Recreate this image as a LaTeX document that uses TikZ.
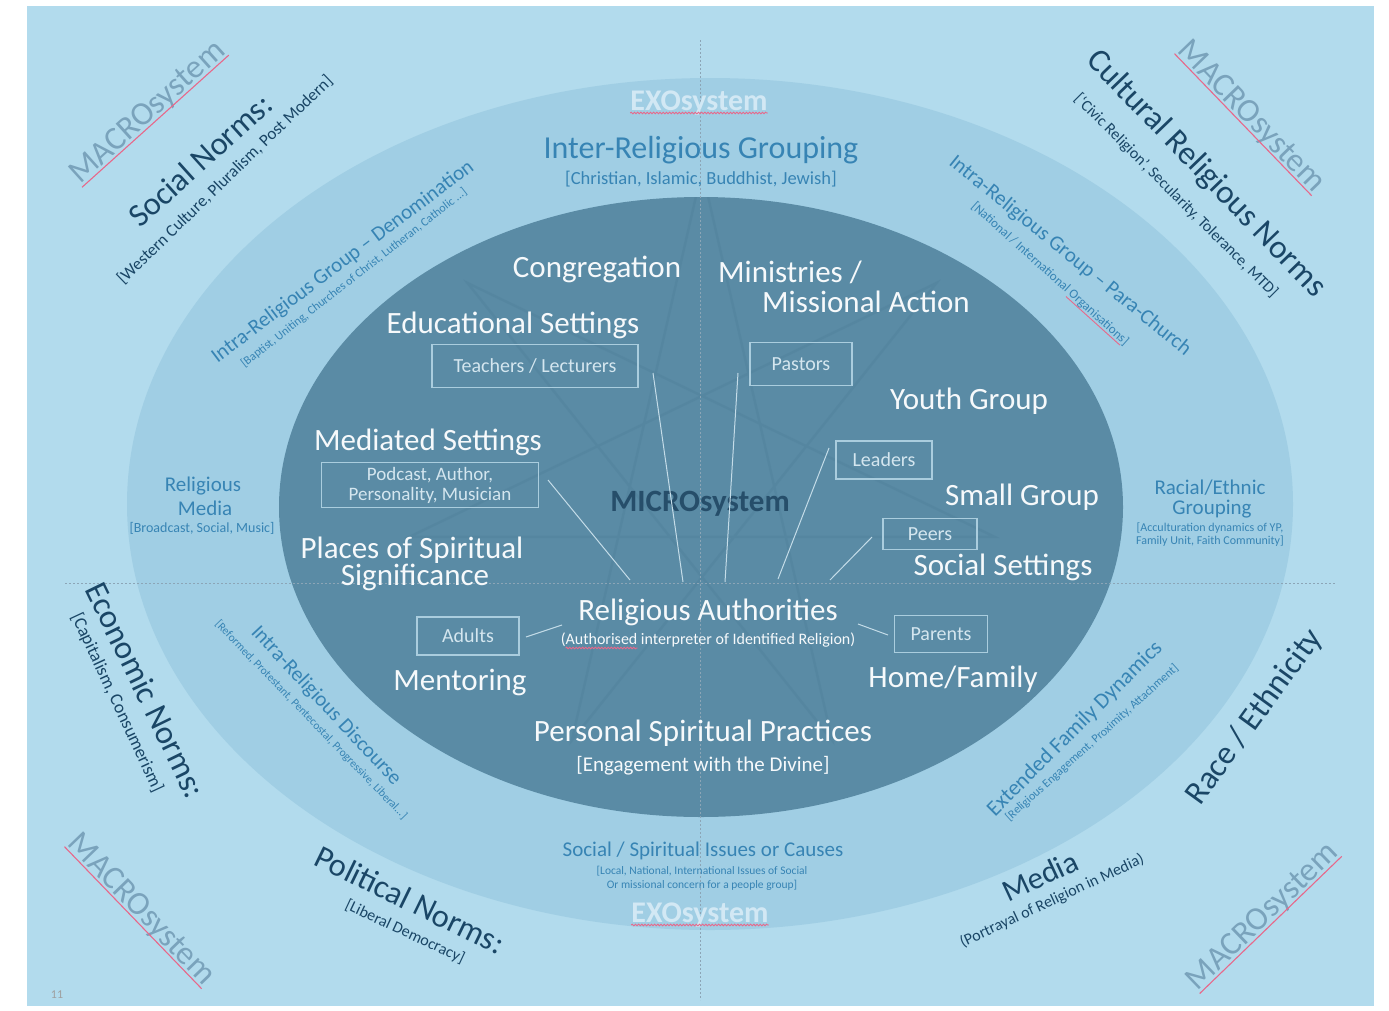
\documentclass[tikz,border=0pt]{standalone}
\usepackage{fontspec}
\setmainfont{Carlito}
\usetikzlibrary{calc,decorations.pathmorphing}

\definecolor{pagebg}{RGB}{178,219,237}
\definecolor{exoband}{RGB}{160,206,228}
\definecolor{microfill}{RGB}{90,139,165}
\definecolor{starcol}{RGB}{66,112,140}
\definecolor{guidegray}{RGB}{140,165,182}
\definecolor{microtext}{RGB}{246,249,251}
\definecolor{boxline}{RGB}{170,205,222}
\definecolor{boxtext}{RGB}{212,230,239}
\definecolor{linkline}{RGB}{196,220,232}
\definecolor{microtitle}{RGB}{38,78,106}
\definecolor{exotext}{RGB}{55,132,180}
\definecolor{macrotext}{RGB}{26,70,102}
\definecolor{wmblue}{RGB}{122,163,188}
\definecolor{exowhite}{RGB}{210,232,244}
\definecolor{spellred}{RGB}{232,104,138}

\newcommand{\fsz}[2]{\fontsize{#1}{#2}\selectfont}

\begin{document}
\begin{tikzpicture}[x=1pt,y=-1pt,
  micro/.style={text=microtext,font=\fsz{31}{36},inner sep=0pt},
  rolebox/.style={draw=boxline,line width=1.2pt,text=boxtext,font=\fsz{20}{21},inner sep=0pt,align=center},
  link/.style={draw=linkline,line width=1pt},
  exolabel/.style={text=exotext,inner sep=0pt},
  macrolabel/.style={text=macrotext,inner sep=0pt},
  watermark/.style={text=wmblue,font=\fsz{33}{38},inner sep=0pt},
  exomark/.style={text=exowhite,font=\bfseries\fsz{30}{34},inner sep=0pt},
  redline/.style={draw=spellred,line width=1.1pt},
  squiggle/.style={draw=spellred,line width=0.9pt,decorate,decoration={snake,amplitude=0.8pt,segment length=3.2pt}},
  guideline/.style={draw=guidegray,dash pattern=on 2pt off 2pt,line width=0.7pt}
]
\useasboundingbox (0,0) rectangle (1389,1010);
\fill[white] (0,0) rectangle (1389,1010);

% macro field, exosystem ring, microsystem core
\fill[pagebg] (27,6) rectangle (1374,1006);
\fill[exoband] (710,504) ellipse (583pt and 426pt);
\fill[microfill] (701,507) ellipse (422pt and 310pt);

% faint seven-pointed star inside the core
\begin{scope}
  \clip (701,507) ellipse (422pt and 310pt);
  \draw[starcol,line width=2.5pt,opacity=0.17,line join=miter,shift={(702,470)}]
    (90:300pt) \foreach \k in {1,...,6} { -- ({90+\k*154.2857}:300pt) } -- cycle;
\end{scope}

% quadrant guides
\draw[guideline] (700,40) -- (700,1000);
\draw[guideline] (65,583) -- (1335,583);

% ---------- MICROsystem ----------
\node[micro,anchor=base] (congr) at (597,277) {Congregation};
\node[micro,anchor=base west] (minist1) at (718,282) {Ministries /};
\node[micro,anchor=base west] (minist2) at (762,312) {Missional Action};
\node[micro,anchor=base] (educ) at (513,333) {Educational Settings};
\node[rolebox,minimum width=206pt,minimum height=43pt] (teach) at (535,366) {Teachers / Lecturers};
\node[rolebox,minimum width=102pt,minimum height=43pt] (pastor) at (801,364) {Pastors};
\node[micro,anchor=base] (youth) at (969,409) {Youth Group};
\node[micro,anchor=base] (mediated) at (428,450) {Mediated Settings};
\node[rolebox,minimum width=217pt,minimum height=45pt,font=\fsz{19}{20}] (podcast) at (430,485) {Podcast, Author,\\Personality, Musician};
\node[rolebox,minimum width=96pt,minimum height=38pt] (leader) at (884,460) {Leaders};
\node[micro,font=\bfseries\fsz{31}{36},text=microtitle,anchor=base] (microsys) at (700,511) {MICROsystem};
\node[micro,anchor=base] (small) at (1022,505) {Small Group};
\node[rolebox,minimum width=94pt,minimum height=31pt] (peers) at (930,534) {Peers};
\node[micro,anchor=base] (socialset) at (1003,575) {Social Settings};
\node[micro,anchor=base] (places1) at (412,558) {Places of Spiritual};
\node[micro,anchor=base] (places2) at (415,585) {Significance};
\node[micro,anchor=base] (relauth) at (708,620) {Religious Authorities};
\node[micro,font=\fsz{16}{18},anchor=base] (relauthS) at (708,644) {(Authorised interpreter of Identified Religion)};
\node[rolebox,minimum width=102pt,minimum height=38pt] (adults) at (468,636) {Adults};
\node[rolebox,minimum width=93pt,minimum height=37pt] (parents) at (941,634) {Parents};
\node[micro,anchor=base] (mentor) at (460,690) {Mentoring};
\node[micro,anchor=base] (home) at (953,687) {Home/Family};
\node[micro,anchor=base] (personal) at (703,741) {Personal Spiritual Practices};
\node[micro,font=\fsz{21}{24},anchor=base] (personalS) at (703,771) {[Engagement with the Divine]};

% links from the roles towards the religious authorities
\coordinate (podA) at (548,480);    \coordinate (podB) at (630,580);
\coordinate (teachA) at (653,373);  \coordinate (teachB) at (683,582);
\coordinate (pastA) at (738,373);   \coordinate (pastB) at (725,582);
\coordinate (leadA) at (829,448);   \coordinate (leadB) at (778,579);
\coordinate (peerA) at (872,537);   \coordinate (peerB) at (830,580);
\coordinate (adultA) at (526,637);  \coordinate (adultB) at (562,625);
\coordinate (parA) at (888,635);    \coordinate (parB) at (858,624);
\draw[link] (podA) -- (podB);
\draw[link] (teachA) -- (teachB);
\draw[link] (pastA) -- (pastB);
\draw[link] (leadA) -- (leadB);
\draw[link] (peerA) -- (peerB);
\draw[link] (adultA) -- (adultB);
\draw[link] (parA) -- (parB);
\draw[squiggle] ($(relauthS.base west)+(5,4)$) -- ($(relauthS.base west)+(77,4)$);

% ---------- EXOsystem ----------
\node[exomark,anchor=base] (exoTop) at (699,110) {EXOsystem};
\node[exolabel,font=\fsz{32}{36},anchor=base] (interT) at (701,158) {Inter-Religious Grouping};
\node[exolabel,font=\fsz{18.5}{21},anchor=base] (interS) at (701,184) {[Christian, Islamic, Buddhist, Jewish]};
\node[exolabel,font=\fsz{21}{24},rotate=37] (denomT) at (343,262) {Intra-Religious Group – Denomination};
\node[exolabel,font=\fsz{12}{13},rotate=38] (denomS) at (354,278) {[Baptist, Uniting, Churches of Christ, Lutheran, Catholic ...]};
\node[exolabel,font=\fsz{21}{24},rotate=-39] (paraT) at (1070,256) {Intra-Religious Group – Para-Church};
\node[exolabel,font=\fsz{13}{15},rotate=-42] (paraS) at (1050,274) {[National / International Organisations]};
\node[exolabel,font=\fsz{21}{24},anchor=base] (relmed1) at (203,491) {Religious};
\node[exolabel,font=\fsz{21}{24},anchor=base] (relmed2) at (205,515) {Media};
\node[exolabel,font=\fsz{14}{16},anchor=base] (relmed3) at (202,532) {[Broadcast, Social, Music]};
\node[exolabel,font=\fsz{21}{24},anchor=base] (race1) at (1210,494) {Racial/Ethnic};
\node[exolabel,font=\fsz{21}{24},anchor=base] (race2) at (1212,514) {Grouping};
\node[exolabel,font=\fsz{12}{14},anchor=base] (race3) at (1210,531) {[Acculturation dynamics of YP,};
\node[exolabel,font=\fsz{12}{14},anchor=base] (race4) at (1210,544) {Family Unit, Faith Community]};
\node[exolabel,font=\fsz{21}{24},rotate=-47] (discT) at (326,706) {Intra-Religious Discourse};
\node[exolabel,font=\fsz{11.5}{13},rotate=-46] (discS) at (311,720) {[Reformed, Protestant, Pentecostal, Progressive, Liberal...]};
\node[exolabel,font=\fsz{22}{24},rotate=45] (famT) at (1075,729) {Extended Family Dynamics};
\node[exolabel,font=\fsz{12}{14},rotate=42] (famS) at (1092,743) {[Religious Engagement, Proximity, Attachment]};
\node[exolabel,font=\fsz{21}{24},anchor=base] (issuesT) at (703,856) {Social / Spiritual Issues or Causes};
\node[exolabel,font=\fsz{11.5}{13},anchor=base] (issuesS1) at (702,874) {[Local, National, International Issues of Social};
\node[exolabel,font=\fsz{11.5}{13},anchor=base] (issuesS2) at (702,888) {Or missional concern for a people group]};
\node[exomark,anchor=base] (exoBot) at (700,922) {EXOsystem};

\draw[squiggle] ($(exoTop.base west)+(0,3)$) -- ($(exoTop.base east)+(0,3)$);
\draw[squiggle] ($(exoBot.base west)+(0,3)$) -- ($(exoBot.base east)+(0,3)$);
\coordinate (orgA) at ($(paraS.base west)!0.63!(paraS.base east)$);
\coordinate (orgB) at ($(paraS.base west)!0.98!(paraS.base east)$);
\draw[redline,line width=0.9pt] ($(orgA)!2.5pt!-90:(orgB)$) -- ($(orgB)!2.5pt!90:(orgA)$);

% ---------- MACROsystem ----------
\node[watermark,rotate=42] (macroTL) at (148,113) {MACROsystem};
\node[macrolabel,font=\fsz{32.5}{36},rotate=42] (socialN) at (200,160) {Social Norms:};
\node[macrolabel,font=\fsz{17}{20},rotate=44] (socialS) at (225,180) {[Western Culture, Pluralism, Post Modern]};

\node[watermark,rotate=-46] (macroTR) at (1251,117) {MACROsystem};
\node[macrolabel,font=\fsz{33}{36},rotate=-46] (cultN) at (1206,174) {Cultural Religious Norms};
\node[macrolabel,font=\fsz{16}{19},rotate=-45] (cultS) at (1176,196) {[‘Civic Religion’, Secularity, Tolerance, MTD]};

\node[macrolabel,font=\fsz{33}{36},rotate=-64] (econN) at (146,690) {Economic Norms:};
\node[macrolabel,font=\fsz{18}{20},rotate=-65] (econS) at (117,703) {[Capitalism, Consumerism]};

\node[watermark,rotate=-46] (macroBL) at (141,910) {MACROsystem};
\node[macrolabel,font=\fsz{32.5}{36},rotate=-26] (polN) at (410,900) {Political Norms:};
\node[macrolabel,font=\fsz{16}{19},rotate=-25] (polS) at (405,932) {[Liberal Democracy]};

\node[macrolabel,font=\fsz{33}{36},rotate=54] (raceN) at (1255,717) {Race / Ethnicity};
\node[macrolabel,font=\fsz{31}{34},rotate=25] (mediaN) at (1040,876) {Media};
\node[macrolabel,font=\fsz{16}{19},rotate=25] (mediaS) at (1052,901) {(Portrayal of Religion in Media)};
\node[watermark,rotate=44] (macroBR) at (1263,917) {MACROsystem};

\foreach \m in {macroTL,macroTR,macroBL,macroBR}
  \draw[redline] ($(\m.base west)!3pt!-90:(\m.base east)$) -- ($(\m.base east)!3pt!90:(\m.base west)$);

\node[text=gray!75,font=\fsz{12}{14},anchor=base] (pagenum) at (57,998) {11};
\end{tikzpicture}
\end{document}
